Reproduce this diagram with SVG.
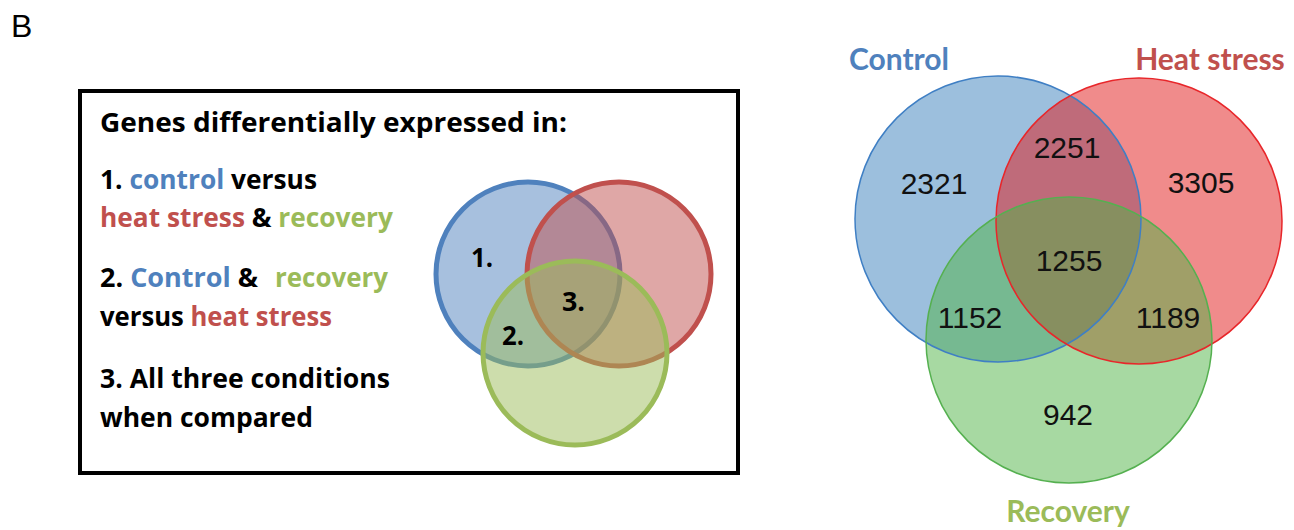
<svg xmlns="http://www.w3.org/2000/svg" width="1294" height="530" viewBox="0 0 1294 530">
<style>
.t{font-family:"Open Sans",Lato,"Liberation Sans",sans-serif;font-weight:bold;font-size:26px;fill:#000}
.s{font-family:"Open Sans",Lato,"Liberation Sans",sans-serif;font-weight:bold;font-size:27px;fill:#000}
.b{fill:#4f81bd}.r{fill:#c0504d}.g{fill:#9bbb59}
.n{font-family:"Liberation Sans",Arial,sans-serif;font-size:30px;fill:#111;text-anchor:middle}
.h{font-family:Lato,"Open Sans","Liberation Sans",sans-serif;font-weight:bold;font-size:30px;text-anchor:middle}
</style>
<rect width="1294" height="530" fill="#fff"/>
<text x="11" y="37" font-family="Liberation Sans,Arial,sans-serif" font-size="32" fill="#000">B</text>
<g id="legend-box">
<rect x="80" y="91" width="658" height="382" fill="#fff" stroke="#000" stroke-width="4"/>
<text class="t" x="100" y="132" textLength="467" lengthAdjust="spacingAndGlyphs">Genes differentially expressed in:</text>
<text class="t" x="100" y="189" textLength="217" lengthAdjust="spacingAndGlyphs">1. <tspan class="b">control</tspan> versus</text>
<text class="t" x="100" y="227" textLength="293" lengthAdjust="spacingAndGlyphs"><tspan class="r">heat stress</tspan> &amp; <tspan class="g">recovery</tspan></text>
<text class="t" x="100" y="287" textLength="158" lengthAdjust="spacingAndGlyphs">2. <tspan class="b">Control</tspan> &amp;</text>
<text class="t g" x="275" y="287" textLength="113" lengthAdjust="spacingAndGlyphs">recovery</text>
<text class="t" x="100" y="326" textLength="232" lengthAdjust="spacingAndGlyphs">versus <tspan class="r">heat stress</tspan></text>
<text class="t" x="100" y="388" textLength="290" lengthAdjust="spacingAndGlyphs">3. All three conditions</text>
<text class="t" x="100" y="427" textLength="213" lengthAdjust="spacingAndGlyphs">when compared</text>
</g>
<g id="small-venn">
<circle cx="528" cy="274" r="92" fill="#4f81bd" fill-opacity="0.5" stroke="#4f81bd" stroke-width="5"/>
<circle cx="619" cy="274" r="92" fill="#c0504d" fill-opacity="0.5" stroke="#c0504d" stroke-width="5"/>
<circle cx="575" cy="353" r="92" fill="#9bbb59" fill-opacity="0.5" stroke="#9bbb59" stroke-width="5"/>
<text class="s" x="471" y="267" textLength="22" lengthAdjust="spacingAndGlyphs">1.</text>
<text class="s" x="502" y="345" textLength="22" lengthAdjust="spacingAndGlyphs">2.</text>
<text class="s" x="562" y="311" textLength="23" lengthAdjust="spacingAndGlyphs">3.</text>
</g>
<g id="venn-control">
<circle cx="998" cy="219" r="143" fill="#3a7fbb" fill-opacity="0.5"/>
</g>
<g id="venn-heat">
<circle cx="1139" cy="221" r="143" fill="#e11717" fill-opacity="0.5"/>
</g>
<g id="venn-recovery">
<circle cx="1069" cy="340" r="143" fill="#4fb345" fill-opacity="0.5"/>
</g>
<g id="venn-outlines" fill="none" stroke-width="1.5">
<circle cx="998" cy="219" r="143" stroke="#3f7fc4"/>
<circle cx="1139" cy="221" r="143" stroke="#e8262a"/>
<circle cx="1069" cy="340" r="143" stroke="#55b050"/>
</g>
<g id="counts">
<text class="n" x="934" y="194">2321</text>
<text class="n" x="1067" y="158">2251</text>
<text class="n" x="1201" y="193">3305</text>
<text class="n" x="1069" y="271">1255</text>
<text class="n" x="970" y="328">1152</text>
<text class="n" x="1168" y="328">1189</text>
<text class="n" x="1068" y="425">942</text>
</g>
<g id="labels">
<text class="h b" x="899" y="70">Control</text>
<text class="h r" x="1210" y="70">Heat stress</text>
<text class="h g" x="1068" y="522">Recovery</text>
</g>
</svg>
